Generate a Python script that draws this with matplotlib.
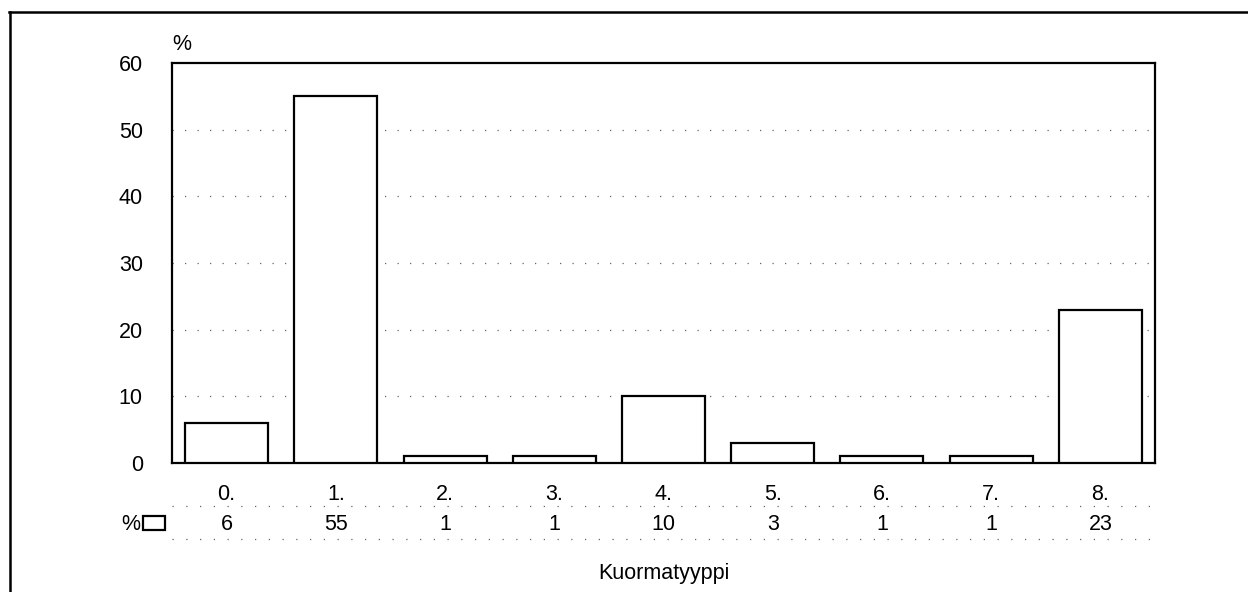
import numpy as np
import matplotlib.pyplot as plt
from matplotlib.patches import Rectangle
from matplotlib.lines import Line2D

plt.rcParams['font.family'] = ['Liberation Sans', 'DejaVu Sans']

# data
categories = ['0.', '1.', '2.', '3.', '4.', '5.', '6.', '7.', '8.']
values = [6, 55, 1, 1, 10, 3, 1, 1, 23]
yticks = [0, 10, 20, 30, 40, 50, 60]

FS = 15.5
W, H = 1248, 592
fig = plt.figure(figsize=(W / 100, H / 100), dpi=100)
ax = fig.add_axes([172 / W, 1 - 463 / H, 983 / W, 400 / H])

x = np.arange(len(categories))
ax.bar(x, values, width=0.76, color='white', edgecolor='black', linewidth=1.6, zorder=3)

ax.set_xlim(-0.5, len(categories) - 0.5)
ax.set_ylim(0, 60)
ax.set_yticks(yticks)
ax.set_xticks([])
ax.tick_params(axis='y', length=0, pad=21, labelsize=FS)
for s in ax.spines.values():
    s.set_linewidth(1.6)

# sparse dotted gridlines like the scan
for yv in yticks[1:-1]:
    ax.axhline(yv, color='#666666', linewidth=0.9, linestyle=(0, (1, 9)), zorder=1)

ax.text(0.0, 1.045, '%', transform=ax.transAxes, fontsize=FS, ha='left', va='center')

# data table under the chart
trans = ax.get_xaxis_transform()
for xi, cat, v in zip(x, categories, values):
    ax.text(xi, -0.08, cat, transform=trans, ha='center', va='center', fontsize=FS)
    ax.text(xi, -0.155, str(v), transform=trans, ha='center', va='center', fontsize=FS)

for yl in [-0.107, -0.19]:
    ax.add_line(Line2D([-0.5, len(categories) - 0.5], [yl, yl], transform=trans,
                       color='#666666', linewidth=0.9, linestyle=(0, (1, 10)), clip_on=False))

fig.text(121 / W, 1 - 524 / H, '%', fontsize=FS, ha='left', va='center')
fig.add_artist(Rectangle((143 / W, 1 - 530 / H), 22 / W, 14 / H, transform=fig.transFigure,
                         facecolor='white', edgecolor='black', linewidth=1.6))

ax.text(0.5, -0.275, 'Kuormatyyppi', transform=ax.transAxes, ha='center', va='center', fontsize=FS)

# outer frame of the scanned page
fig.add_artist(Line2D([9 / W, 1.0], [1 - 12 / H, 1 - 12 / H], transform=fig.transFigure,
                      color='black', linewidth=1.8))
fig.add_artist(Line2D([10 / W, 10 / W], [0, 1 - 12 / H], transform=fig.transFigure,
                      color='black', linewidth=1.8))

fig.savefig('out.png', dpi=100)
